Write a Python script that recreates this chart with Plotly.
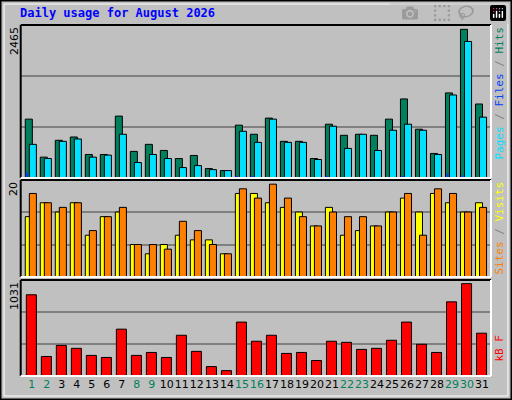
import plotly.graph_objects as go

days = list(range(1, 32))
hits = [976, 346, 625, 680, 390, 390, 1026, 441, 558, 457, 323, 374, 156, 123, 876, 725,
        993, 608, 608, 323, 892, 708, 725, 708, 976, 1311, 809, 407, 1411, 2465, 1227]
files = [558, 323, 608, 647, 346, 379, 725, 257, 390, 323, 173, 206, 139, 123, 775, 591,
         976, 591, 591, 307, 859, 491, 725, 457, 792, 892, 792, 390, 1377, 2264, 1009]
pages = [85, 15, 15, 15, 15, 15, 15, 15, 15, 15, 15, 15, 10, 10, 30, 20,
         15, 15, 15, 15, 20, 15, 15, 15, 15, 30, 15, 15, 75, 40, 15]
sites = [13, 16, 14, 16, 9, 13, 14, 7, 5, 7, 9, 8, 8, 5, 18, 18,
         16, 15, 14, 11, 15, 9, 10, 11, 14, 17, 14, 18, 16, 14, 16]
visits = [18, 16, 15, 16, 10, 13, 15, 7, 7, 6, 12, 10, 7, 5, 19, 17,
          20, 17, 13, 11, 14, 13, 13, 11, 14, 18, 9, 19, 18, 14, 15]
kbytes = [907, 218, 342, 309, 230, 207, 523, 230, 263, 207, 455, 275, 105, 60, 602, 388,
          455, 252, 263, 173, 388, 376, 297, 309, 399, 602, 354, 263, 828, 1031, 478]
weekend = [1, 2, 8, 9, 15, 16, 22, 23, 29, 30]

GRAY = "#C0C0C0"
line = dict(color="black", width=1)
fig = go.Figure()
fig.add_bar(x=days, y=hits, width=0.47, marker=dict(color="#00805C", line=line), xaxis="x", yaxis="y")
fig.add_bar(x=[d + 0.27 for d in days], y=files, width=0.47, marker=dict(color="#00E0FF", line=line), xaxis="x", yaxis="y")
fig.add_bar(x=[d - 0.1 for d in days], y=pages, width=0.1, marker=dict(color="#0040FF", line=dict(width=0)), xaxis="x", yaxis="y")
fig.add_bar(x=days, y=sites, width=0.47, marker=dict(color="#FFFF00", line=line), xaxis="x2", yaxis="y2")
fig.add_bar(x=[d + 0.27 for d in days], y=visits, width=0.47, marker=dict(color="#FF8000", line=line), xaxis="x2", yaxis="y2")
fig.add_bar(x=[d + 0.17 for d in days], y=kbytes, width=0.67, marker=dict(color="#FF0000", line=line), xaxis="x3", yaxis="y3")

xr = [0.46, 31.8]
xdom = [20.7 / 512, 491 / 512]
ticktext = [f"<span style='color:#00805C'>{d}</span>" if d in weekend else str(d) for d in days]
common_x = dict(range=xr, domain=xdom, showgrid=False, zeroline=False, fixedrange=True)
fig.update_layout(
    width=512, height=400, margin=dict(l=0, r=0, t=0, b=0, autoexpand=False),
    paper_bgcolor=GRAY, plot_bgcolor=GRAY, showlegend=False, barmode="overlay",
    font=dict(family="DejaVu Sans Mono", size=11, color="black"),
    xaxis=dict(**common_x, anchor="y", showticklabels=False),
    xaxis2=dict(**common_x, anchor="y2", showticklabels=False),
    xaxis3=dict(**common_x, anchor="y3", tickvals=[d + 0.2 for d in days], ticktext=ticktext,
                ticks="", tickangle=0, automargin=False, tickfont=dict(family="DejaVu Sans", size=11)),
)
ymax = [2537, 20.9, 1072]
doms = [[1 - 178 / 400, 1 - 25 / 400], [1 - 277 / 400, 1 - 180 / 400], [1 - 376 / 400, 1 - 280 / 400]]
for i, (m, dm) in enumerate(zip(ymax, doms)):
    key = "yaxis" if i == 0 else f"yaxis{i + 1}"
    fig.layout[key] = dict(range=[0, m], domain=dm, tickvals=[m / 3, 2 * m / 3], showticklabels=False,
                           gridcolor="#808080", gridwidth=1.5, zeroline=False, fixedrange=True,
                           anchor="x" if i == 0 else f"x{i + 1}")
    y0, y1 = dm
    x0, x1 = xdom
    fig.add_shape(type="line", xref="paper", yref="paper", x0=x0, x1=x1, y0=y1, y1=y1, line=dict(color="black", width=2))
    fig.add_shape(type="line", xref="paper", yref="paper", x0=x0, x1=x0, y0=y0, y1=y1, line=dict(color="black", width=2))
    fig.add_shape(type="line", xref="paper", yref="paper", x0=x0, x1=x1, y0=y0, y1=y0, line=dict(color="white", width=2))
    fig.add_shape(type="line", xref="paper", yref="paper", x0=x1, x1=x1, y0=y0, y1=y1, line=dict(color="white", width=2))

# outer frame
fig.add_shape(type="rect", xref="paper", yref="paper", x0=0, x1=1, y0=0, y1=1, line=dict(color="black", width=3))
fig.add_shape(type="rect", xref="paper", yref="paper", x0=0.008, x1=0.992, y0=0.01, y1=0.99, line=dict(color="white", width=1))

fig.add_annotation(text="<b>Daily usage for August 2026</b>", xref="paper", yref="paper", x=18 / 512, y=1 - 13 / 400,
                   xanchor="left", yanchor="middle", showarrow=False,
                   font=dict(family="DejaVu Sans Mono", size=12, color="#0000FF"))
for txt, ytop in [("2465", 25), ("20", 180), ("1031", 280)]:
    fig.add_annotation(text=txt, textangle=-90, xref="paper", yref="paper", x=14 / 512, y=1 - ytop / 400,
                       xanchor="center", yanchor="top", showarrow=False, font=dict(family="DejaVu Sans", size=11))
right = [("<span style='color:#00E0FF'>Pages</span> / <span style='color:#0040FF'>Files</span> / "
          "<span style='color:#00805C'>Hits</span>", 25),
         ("<span style='color:#FF8000'>Sites</span> / <span style='color:#FFFF00'>Visits</span>", 180),
         ("<span style='color:#FF0000'>kB F</span>", 333)]
for txt, ytop in right:
    fig.add_annotation(text=txt, textangle=-90, xref="paper", yref="paper", x=499 / 512, y=1 - ytop / 400,
                       xanchor="center", yanchor="top", showarrow=False,
                       font=dict(family="DejaVu Sans Mono", size=11, color="#808080"))

fig.write_html("out.html", post_script="document.body.style.margin='0';document.body.style.overflow='hidden';")
